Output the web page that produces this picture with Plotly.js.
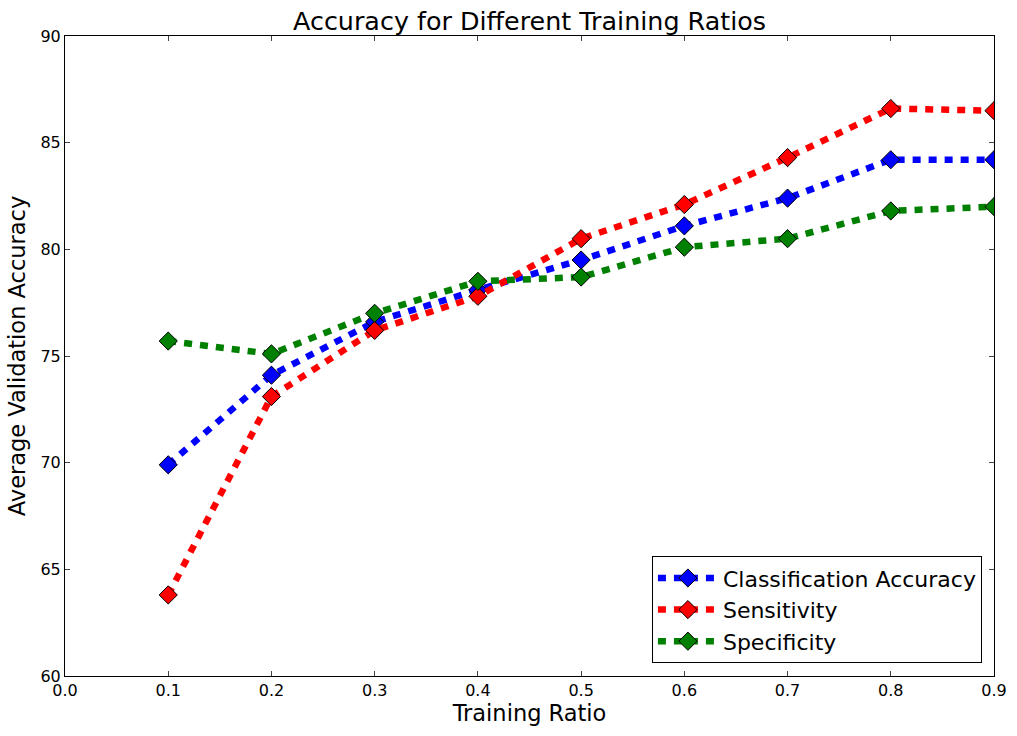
<!DOCTYPE html>
<html>
<head>
<meta charset="utf-8">
<script src="https://cdn.plot.ly/plotly-3.0.1.min.js"></script>
<style>
  body { margin: 0; background: #fff; }
  #graph { width: 1017px; height: 736px; }
</style>
</head>
<body>
<div id="graph"></div>
<script>
// values
const ratios = [0.1, 0.2, 0.3, 0.4, 0.5, 0.6, 0.7, 0.8, 0.9];
const accuracy = [69.9, 74.1, 76.6, 78.1, 79.5, 81.1, 82.4, 84.2, 84.2];
const sensitivity = [63.8, 73.1, 76.2, 77.8, 80.5, 82.1, 84.3, 86.6, 86.5];
const specificity = [75.7, 75.1, 77.0, 78.5, 78.7, 80.1, 80.5, 81.8, 82.0];

const names = ['Classification Accuracy', 'Sensitivity', 'Specificity'];
const colors = ['#0000ff', '#ff0000', '#008000'];
const series = [accuracy, sensitivity, specificity];

var data = series.map(function(vals, i) {
    return {
        x: ratios,
        y: vals,
        name: names[i],
        legendgroup: 'g' + i,
        mode: 'lines+markers',
        type: 'scatter',
        line: {color: colors[i], width: 6.5, dash: '8px,8px'},
        marker: {symbol: 'diamond', size: 14, color: colors[i], line: {color: '#000', width: 1}}
    };
});

const font = 'DejaVu Sans, sans-serif';

const layout = {
    width: 1017,
    height: 736,
    paper_bgcolor: '#fff',
    plot_bgcolor: '#fff',
    margin: {l: 65, r: 23, t: 36, b: 60},
    font: {family: font, color: '#000'},
    showlegend: true,
    title: {
        text: 'Accuracy for Different Training Ratios',
        font: {family: font, size: 25.4},
        xref: 'paper', x: 0.5, xanchor: 'center',
        y: 0.971, yanchor: 'middle'
    },
    xaxis: {
        range: [0, 0.9],
        dtick: 0.1,
        tick0: 0,
        tickformat: '.1f',
        ticks: 'inside',
        ticklen: 5,
        mirror: 'ticks',
        showline: true,
        linecolor: '#000',
        linewidth: 1,
        showgrid: false,
        zeroline: false,
        tickfont: {size: 16},
        title: {text: 'Training Ratio', font: {family: font, size: 22.5}, standoff: 6}
    },
    yaxis: {
        range: [60, 90],
        dtick: 5,
        ticks: 'inside',
        ticklen: 5,
        mirror: 'ticks',
        showline: true,
        linecolor: '#000',
        linewidth: 1,
        showgrid: false,
        zeroline: false,
        tickfont: {size: 16},
        title: {text: 'Average Validation Accuracy', font: {family: font, size: 22.5}, standoff: 8}
    },
    legend: {
        x: 0.987, xanchor: 'right',
        y: 0.02, yanchor: 'bottom',
        bgcolor: '#fff',
        bordercolor: '#000',
        borderwidth: 1,
        font: {family: font, size: 22},
        tracegroupgap: 0,
        itemwidth: 60
    }
};

Plotly.newPlot('graph', data, layout, {displayModeBar: false});
</script>
</body>
</html>
